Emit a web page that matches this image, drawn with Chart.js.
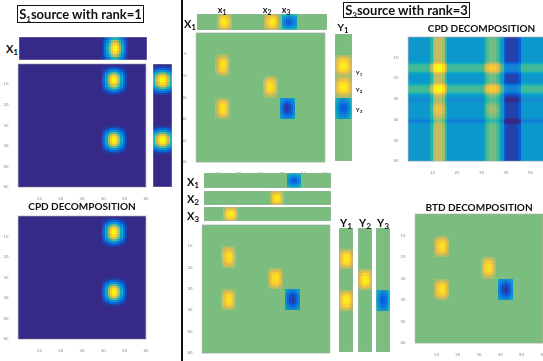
<!DOCTYPE html>
<html><head><meta charset="utf-8">
<script src="https://cdn.jsdelivr.net/npm/chart.js@4.4.1/dist/chart.umd.min.js"></script>
<style>
html,body{margin:0;padding:0;background:#fff;}
#page{position:relative;width:543px;height:361px;overflow:hidden;background:#fff;font-family:Lato,'Open Sans',sans-serif;}
#page canvas{position:absolute;}
.lbl{position:absolute;font-weight:bold;color:#111;white-space:nowrap;transform:translate(-50%,-50%);line-height:1;}
.lbl sub{font-size:0.75em;vertical-align:-0.3em;line-height:0;}
.box{position:absolute;border:1px solid #111;box-sizing:border-box;font-weight:bold;font-size:13px;text-align:center;white-space:nowrap;color:#111;}
.box sub{font-size:8px;vertical-align:-0.35em;line-height:0;}
.sep{position:absolute;left:181px;top:0;width:1.5px;height:361px;background:#111;}
</style></head><body><div id="page"></div>
<script>
// ---------------- data ----------------
const gridSize = 60;
const tickValues = [10, 20, 30, 40, 50, 60];

// bump shapes (cell values, peak = 1)
const bumpLeftX = [0.06, 0.18, 0.4, 0.65, 0.88, 1, 1, 0.88, 0.65, 0.4, 0.18, 0.06];
const bumpLeftY = [0.05, 0.15, 0.32, 0.55, 0.78, 0.93, 1, 1, 0.93, 0.78, 0.55, 0.32, 0.15, 0.05];
const bumpPosX = [0.3, 0.68, 0.93, 1, 0.93, 0.68, 0.3];
const bumpPosY = [0.28, 0.55, 0.8, 0.95, 1, 1, 0.95, 0.8, 0.55, 0.28];
const bumpNegX = [0.62, 0.8, 0.93, 1, 0.93, 0.8, 0.62];
const bumpNegY = [0.62, 0.75, 0.87, 0.96, 1, 1, 0.96, 0.87, 0.75, 0.62];
const stripProfile = [0.45, 0.7, 0.9, 1, 1, 0.9, 0.7, 0.45];

function vec(parts) {
  const v = new Array(gridSize).fill(0);
  parts.forEach(([start, shape, amp]) => shape.forEach((s, k) => { v[start + k] += s * amp; }));
  return v;
}

// rank-1 source (S1)
const rank1X = vec([[39, bumpLeftX, 1]]);
const rank1Y = vec([[1, bumpLeftY, 1], [30, bumpLeftY, 1]]);

// rank-3 source (S3) factors
const rank3X1 = vec([[39, bumpNegX, -1.18]]);
const rank3X2 = vec([[31, bumpPosX, 0.92]]);
const rank3X3 = vec([[9, bumpPosX, 0.92]]);
const rank3Y1 = vec([[10, bumpPosY, 0.92], [30, bumpPosY, 0.92]]);
const rank3Y2 = vec([[20, bumpPosY, 0.92]]);
const rank3Y3 = vec([[30, bumpNegY, -1.18]]);
const rank3Terms = [[rank3X1, rank3Y3, -1], [rank3X2, rank3Y2, 1], [rank3X3, rank3Y1, 1]];
const rank3MixX = vec([[9, bumpPosX, 0.92], [31, bumpPosX, 0.92], [39, bumpNegX, -1.18]]);
const rank3MixY = vec([[10, bumpPosY, 0.92], [20, bumpPosY, 0.92], [30, bumpNegY, -1.18]]);

// CPD fit of the rank-3 source (band structure)
const cpdBase = 0.32;
const bandColX = [0.35, 0.8, 1, 1, 1, 0.8, 0.35];
const bandNegColX = [0.8, 1, 1, 1, 1, 1, 0.8];
const bandRowY = [0.35, 0.85, 1, 1, 0.85, 0.35];
const crossRowY = [0.3, 0.75, 1, 1, 0.75, 0.3];
const thinLine = [0.5, 1, 0.5];
const cpdCol = vec([[9, bandColX, 0.40], [31, bandColX, 0.26], [39, bandNegColX, -0.27]]);
const cpdRow = vec([[12, bandRowY, 0.2], [22, bandRowY, 0.2], [29, thinLine, -0.05], [39, thinLine, -0.1]]);
const cpdCrossX = vec([[9, bandColX, 1], [31, bandColX, 0.7]]);
const cpdCrossY = vec([[12, crossRowY, 0.12], [22, crossRowY, 0.12], [32, crossRowY, 0.1]]);

// colour limits
const limitsRank1 = [0, 1];
const limitsRank3 = [-1.45, 1];
const limitsCpd = [0, 1];

// parula colormap stops
const parulaStops = [
  [0, [53, 42, 135]], [0.125, [3, 99, 225]], [0.25, [20, 133, 212]], [0.375, [6, 167, 198]],
  [0.5, [56, 185, 158]], [0.625, [146, 191, 115]], [0.75, [217, 186, 86]], [0.875, [252, 206, 46]], [1, [249, 251, 14]]
];

// ---------------- helpers ----------------
function colorFor(v, cmin, cmax) {
  let t = (v - cmin) / (cmax - cmin);
  t = Math.max(0, Math.min(1, t));
  for (let k = 1; k < parulaStops.length; k++) {
    const [t1, c1] = parulaStops[k];
    const [t0, c0] = parulaStops[k - 1];
    if (t <= t1) {
      const f = (t - t0) / (t1 - t0);
      return 'rgb(' + c0.map((c, n) => Math.round(c + (c1[n] - c) * f)).join(',') + ')';
    }
  }
  return 'rgb(249,251,14)';
}

function matrixCells(valueAt) {
  const cells = [];
  for (let j = 0; j < gridSize; j++) for (let i = 0; i < gridSize; i++) cells.push({ x: i + 0.5, y: j + 0.5, v: valueAt(i, j) });
  return cells;
}
function hStripCells(v) {
  const cells = [];
  stripProfile.forEach((p, r) => v.forEach((val, i) => cells.push({ x: i + 0.5, y: r + 0.5, v: val * p })));
  return cells;
}
function vStripCells(v) {
  const cells = [];
  stripProfile.forEach((p, r) => v.forEach((val, j) => cells.push({ x: r + 0.5, y: j + 0.5, v: val * p })));
  return cells;
}

const heatPlugin = {
  id: 'heatCells',
  beforeDatasetsDraw(chart) {
    const { ctx, chartArea: a, scales: { x, y } } = chart;
    ctx.save();
    ctx.beginPath(); ctx.rect(a.left, a.top, a.right - a.left, a.bottom - a.top); ctx.clip();
    chart.data.datasets.forEach(ds => {
      ds.data.forEach(p => {
        const x0 = Math.round(x.getPixelForValue(p.x - 0.5)), x1 = Math.round(x.getPixelForValue(p.x + 0.5));
        const y0 = Math.round(y.getPixelForValue(p.y - 0.5)), y1 = Math.round(y.getPixelForValue(p.y + 0.5));
        ctx.fillStyle = colorFor(p.v, ds.cmin, ds.cmax);
        ctx.fillRect(Math.min(x0, x1), Math.min(y0, y1), Math.abs(x1 - x0), Math.abs(y1 - y0));
      });
    });
    ctx.restore();
  },
  afterDraw(chart) {
    const { ctx, chartArea: a } = chart;
    ctx.save();
    ctx.strokeStyle = 'rgba(175,175,175,0.8)';
    ctx.lineWidth = 0.8;
    ctx.strokeRect(a.left, a.top, a.right - a.left, a.bottom - a.top);
    ctx.restore();
  }
};

const page = document.getElementById('page');

function makeChart(spec, W, H) {
  const canvas = document.createElement('canvas');
  canvas.width = W; canvas.height = H;
  canvas.style.width = W + 'px'; canvas.style.height = H + 'px';
  page.appendChild(canvas);
  const tickFont = { family: 'DejaVu Sans', size: 4 };
  const axis = (max, reverse, pos) => ({
    type: 'linear', position: pos, min: 0, max: max, reverse: reverse, display: spec.axes,
    grid: { display: false }, border: { display: false },
    ticks: { stepSize: 10, font: tickFont, color: '#8c8c8c', padding: 1.5, maxRotation: 0, autoSkip: false },
    afterBuildTicks: s => { s.ticks = s.ticks.filter(t => tickValues.includes(t.value)); }
  });
  return new Chart(canvas, {
    type: 'scatter',
    data: { datasets: [{ data: spec.cells, pointRadius: 0, pointHoverRadius: 0, cmin: spec.limits[0], cmax: spec.limits[1] }] },
    options: {
      responsive: false, maintainAspectRatio: false, animation: false, devicePixelRatio: 1, events: [],
      layout: { padding: 0 },
      scales: { x: axis(spec.xMax, false, 'bottom'), y: axis(spec.yMax, true, 'left') },
      plugins: {
        legend: { display: false }, tooltip: { enabled: false },
        title: spec.title ? {
          display: true, text: spec.title, fullSize: false, color: '#111',
          font: { family: 'Lato', weight: 'bold', size: 10 }, padding: { top: 0, bottom: spec.titlePad }
        } : { display: false }
      }
    },
    plugins: [heatPlugin]
  });
}

function heat(spec) {
  let W = spec.rect[2] + (spec.axes ? 14 : 0);
  let H = spec.rect[3] + (spec.axes ? 10 : 0) + (spec.title ? 16 : 0);
  let ch = makeChart(spec, W, H);
  let a = ch.chartArea;
  const dW = (a.right - a.left) - spec.rect[2], dH = (a.bottom - a.top) - spec.rect[3];
  if (Math.abs(dW) > 0.01 || Math.abs(dH) > 0.01) {
    const c = ch.canvas; ch.destroy(); c.remove();
    W = Math.round(W - dW); H = Math.round(H - dH);
    ch = makeChart(spec, W, H); a = ch.chartArea;
  }
  ch.canvas.style.left = (spec.rect[0] - a.left) + 'px';
  ch.canvas.style.top = (spec.rect[1] - a.top) + 'px';
}

function hStrip(rect, v, limits) { heat({ rect, cells: hStripCells(v), limits, xMax: gridSize, yMax: stripProfile.length, axes: false }); }
function vStrip(rect, v, limits) { heat({ rect, cells: vStripCells(v), limits, xMax: stripProfile.length, yMax: gridSize, axes: false }); }

// ---------------- charts ----------------
const rank1Cells = matrixCells((i, j) => rank1X[i] * rank1Y[j]);
const rank3Cells = matrixCells((i, j) => rank3Terms.reduce((s, [u, w, sg]) => s + sg * u[i] * w[j], 0));
const cpdCells = matrixCells((i, j) => cpdBase + cpdCol[i] + cpdRow[j] + cpdCrossX[i] * cpdCrossY[j]);

// left: rank-1 source
heat({ rect: [18, 64, 128, 123], cells: rank1Cells, limits: limitsRank1, xMax: 60, yMax: 60, axes: true });
hStrip([19, 37, 128, 23], rank1X, limitsRank1);
vStrip([153, 64, 19, 123], rank1Y, limitsRank1);
heat({ rect: [18, 216, 128, 123], cells: rank1Cells, limits: limitsRank1, xMax: 60, yMax: 60, axes: true, title: 'CPD DECOMPOSITION', titlePad: 3 });

// middle top: rank-3 source
heat({ rect: [196, 33, 129, 129], cells: rank3Cells, limits: limitsRank3, xMax: 60, yMax: 60, axes: true });
hStrip([197, 14, 130, 16], rank3MixX, limitsRank3);
vStrip([335, 34, 17, 127], rank3MixY, limitsRank3);

// right top: CPD of rank-3
heat({ rect: [408, 37, 147, 124], cells: cpdCells, limits: limitsCpd, xMax: 60, yMax: 60, axes: true, title: 'CPD DECOMPOSITION', titlePad: 2 });

// middle bottom: rank-3 factors
heat({ rect: [202, 225, 128, 128], cells: rank3Cells, limits: limitsRank3, xMax: 60, yMax: 60, axes: true });
hStrip([204, 173, 127, 15], rank3X1, limitsRank3);
hStrip([204, 191, 127, 14], rank3X2, limitsRank3);
hStrip([204, 207, 127, 14], rank3X3, limitsRank3);
vStrip([339, 228, 14, 124], rank3Y1, limitsRank3);
vStrip([358, 228, 14, 124], rank3Y2, limitsRank3);
vStrip([376, 228, 14, 124], rank3Y3, limitsRank3);

// right bottom: BTD
heat({ rect: [415, 214, 128, 129], cells: rank3Cells, limits: limitsRank3, xMax: 60, yMax: 60, axes: true, title: 'BTD DECOMPOSITION', titlePad: 0 });

// ---------------- text ----------------
function label(html, x, y, size) {
  const d = document.createElement('div');
  d.className = 'lbl'; d.innerHTML = html;
  d.style.left = x + 'px'; d.style.top = y + 'px'; d.style.fontSize = size + 'px';
  page.appendChild(d);
}
function box(html, x, y, w, h) {
  const d = document.createElement('div');
  d.className = 'box'; d.innerHTML = html;
  d.style.left = x + 'px'; d.style.top = y + 'px'; d.style.width = w + 'px'; d.style.height = h + 'px';
  d.style.lineHeight = (h - 2) + 'px';
  page.appendChild(d);
}
const sep = document.createElement('div'); sep.className = 'sep'; page.appendChild(sep);

box('S<sub>1</sub>source with rank=1', 17, 5, 127, 18);
box('S<sub>3</sub>source with rank=3', 343, 2, 127, 16);
label('X<sub>1</sub>', 12, 48, 11);
label('X<sub>1</sub>', 190, 23, 11);
label('x<sub>1</sub>', 222, 9, 9);
label('x<sub>2</sub>', 267, 9, 9);
label('x<sub>3</sub>', 286, 9, 9);
label('Y<sub>1</sub>', 343, 27, 10);
label('Y<sub>1</sub>', 359, 73, 6);
label('Y<sub>2</sub>', 359, 90, 6);
label('Y<sub>3</sub>', 359, 110, 6);
label('X<sub>1</sub>', 193, 181, 11);
label('X<sub>2</sub>', 193, 198, 11);
label('X<sub>3</sub>', 193, 215, 11);
label('Y<sub>1</sub>', 346, 222, 11);
label('Y<sub>2</sub>', 365, 222, 11);
label('Y<sub>3</sub>', 383, 222, 11);
</script>
</body></html>
